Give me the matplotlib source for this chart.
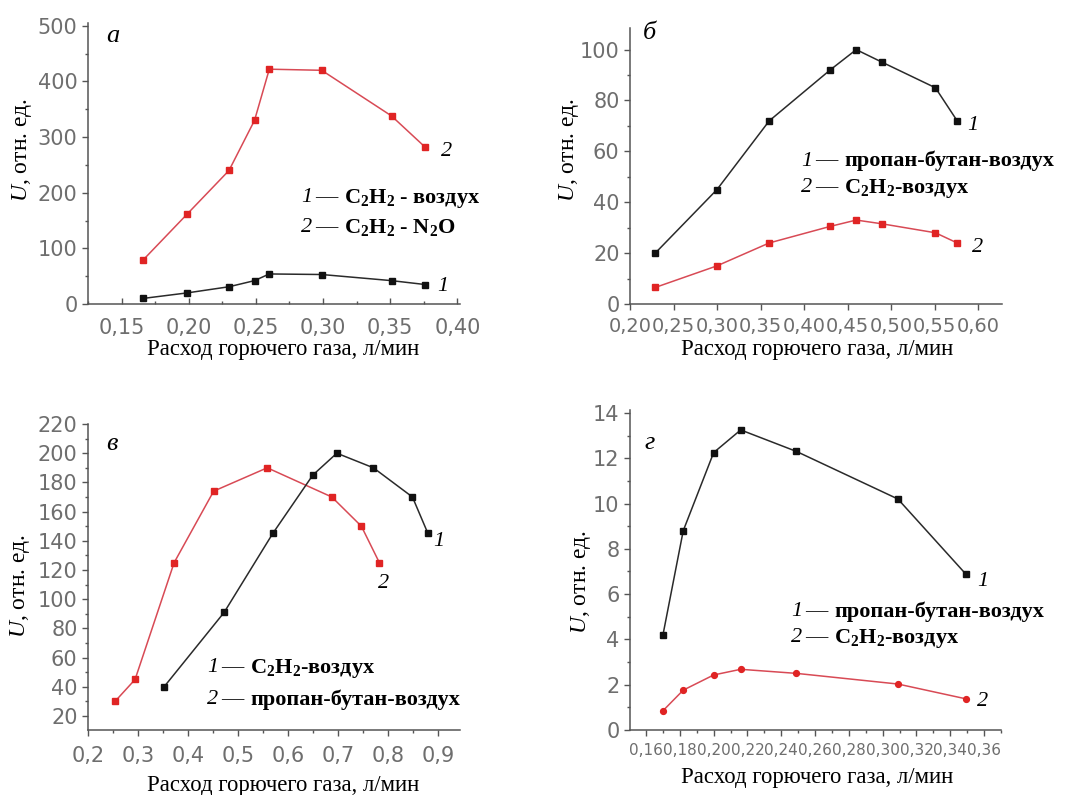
import matplotlib
matplotlib.use("Agg")
import matplotlib.pyplot as plt
from matplotlib.ticker import MultipleLocator, FuncFormatter

plt.rcParams['mathtext.fontset'] = 'custom'
plt.rcParams['mathtext.rm'] = 'Liberation Serif:bold'
plt.rcParams['mathtext.it'] = 'Liberation Serif:italic'
plt.rcParams['mathtext.bf'] = 'Liberation Serif:bold'

# --- а: C2H2 - воздух / C2H2 - N2O
a_x = [0.166, 0.199, 0.230, 0.249, 0.260, 0.299, 0.351, 0.376]
a_air = [10, 20, 31, 42, 54, 53, 42, 35]
a_n2o = [79, 162, 240, 330, 422, 420, 338, 282]

# --- б: пропан-бутан-воздух / C2H2-воздух
b_x = [0.229, 0.300, 0.360, 0.430, 0.460, 0.490, 0.551, 0.576]
b_pb = [20, 45, 72, 92, 100, 95, 85, 72]
b_c2h2 = [6.5, 15, 24, 30.5, 33, 31.5, 28, 24]

# --- в: C2H2-воздух / пропан-бутан-воздух
v_x1 = [0.352, 0.472, 0.569, 0.649, 0.697, 0.770, 0.848, 0.879]
v_c2h2 = [40, 91, 145, 185, 200, 190, 170, 145]
v_x2 = [0.254, 0.294, 0.372, 0.451, 0.558, 0.687, 0.746, 0.782]
v_pb = [30, 45, 125, 174, 190, 170, 150, 125]

# --- г: пропан-бутан-воздух / C2H2-воздух
g_x = [0.170, 0.182, 0.200, 0.216, 0.249, 0.309, 0.349]
g_pb = [4.2, 8.8, 12.25, 13.25, 12.3, 10.2, 6.9]
g_c2h2 = [0.85, 1.76, 2.43, 2.68, 2.5, 2.03, 1.38]

W, H = 1068, 795
fig = plt.figure(figsize=(W / 100, H / 100), dpi=100)

SERIF = 'Liberation Serif'
SANS = 'DejaVu Sans'
RED_LINE = '#d84a55'
RED_MARK = '#e02424'
BLK_LINE = '#2a2a2a'
BLK_MARK = '#111111'
TICK_C = '#6e6e6e'


def px_axes(l, r, t, b):
    return fig.add_axes([l / W, 1 - b / H, (r - l) / W, (b - t) / H])


def ftxt(x, y, s, **kw):
    fig.text(x / W, 1 - y / H, s, **kw)


def comma(decimals):
    return FuncFormatter(lambda v, p: f"{v:.{decimals}f}".replace('.', ','))


def style(ax, xmaj, xmin, ymaj, ymin, xdec, xdir='out', xsize=15, xpad=5):
    for s in ['top', 'right']:
        ax.spines[s].set_visible(False)
    for s in ['left', 'bottom']:
        ax.spines[s].set_color('#555555')
        ax.spines[s].set_linewidth(1.1)
    ax.xaxis.set_major_locator(MultipleLocator(xmaj))
    if xmin:
        ax.xaxis.set_minor_locator(MultipleLocator(xmin))
    ax.yaxis.set_major_locator(MultipleLocator(ymaj))
    ax.yaxis.set_minor_locator(MultipleLocator(ymin))
    ax.xaxis.set_major_formatter(comma(xdec))
    ax.tick_params(which='both', colors='#555555', labelcolor=TICK_C, width=1)
    ax.tick_params(which='major', length=4.5)
    ax.tick_params(which='minor', length=2.5)
    ax.tick_params(axis='x', which='both', direction=xdir, pad=xpad,
                   labelsize=xsize)
    ax.tick_params(axis='y', which='both', direction='out', pad=3,
                   labelsize=15)
    for lab in ax.get_xticklabels() + ax.get_yticklabels():
        lab.set_family(SANS)


def curve(ax, x, y, color, mcolor, marker='s'):
    ax.plot(x, y, color=color, lw=1.1, marker=marker, ms=4.2,
            mfc=mcolor, mec=mcolor, clip_on=False)


def legend(x, y1, y2, name1, name2):
    for y, num, name in [(y1, '1', name1), (y2, '2', name2)]:
        ftxt(x, y, num, family=SERIF, style='italic', fontsize=16, va='center')
        ftxt(x + 14, y, '—', family=SERIF, fontsize=16, va='center')
        ftxt(x + 43, y, name, family=SERIF, weight='bold', fontsize=16,
             va='center')


def labels(xc, yc, xl_y, yl_x):
    ftxt(xc, xl_y, 'Расход горючего газа, л/мин', family=SERIF, fontsize=16.4,
         ha='center', va='center')
    ftxt(yl_x, yc, '$U$, отн. ед.', family=SERIF, fontsize=17, rotation=90,
         ha='center', va='center')


def mark(x, y, s, size=15):
    ftxt(x, y, s, family=SERIF, style='italic', fontsize=size, va='center')


C2H2 = 'C$_2$H$_2$'

# а
ax = px_axes(88, 460, 23, 304)
curve(ax, a_x, a_n2o, RED_LINE, RED_MARK)
curve(ax, a_x, a_air, BLK_LINE, BLK_MARK)
ax.set_xlim(0.125, 0.402)
ax.set_ylim(0, 505)
style(ax, 0.05, 0.025, 100, 50, 2, xdir='in', xpad=10)
mark(106, 36, 'а', 19)
mark(441, 152, '2', 16)
mark(437, 287, '1', 16)
legend(301, 198, 228, C2H2 + ' - воздух', C2H2 + ' - N$_2$O')
labels(283, 150, 350, 22)

# б
ax = px_axes(630, 1002, 28, 304)
curve(ax, b_x, b_pb, BLK_LINE, BLK_MARK)
curve(ax, b_x, b_c2h2, RED_LINE, RED_MARK)
ax.set_xlim(0.2, 0.6275)
ax.set_ylim(0, 108.5)
style(ax, 0.05, None, 20, 10, 2, xsize=14)
mark(643, 33, 'б', 19)
mark(967, 126, '1', 16)
mark(972, 247, '2', 16)
legend(801, 161, 188, 'пропан-бутан-воздух', C2H2 + '-воздух')
labels(817, 150, 350, 569)

# в
ax = px_axes(88, 460, 424, 730)
curve(ax, v_x2, v_pb, RED_LINE, RED_MARK)
curve(ax, v_x1, v_c2h2, BLK_LINE, BLK_MARK)
ax.set_xlim(0.2, 0.943)
ax.set_ylim(10.4, 220)
style(ax, 0.1, 0.05, 20, 10, 1, xpad=7)
mark(106, 444, 'в', 19)
mark(433, 542, '1', 16)
mark(378, 584, '2', 16)
legend(207, 668, 700, C2H2 + '-воздух', 'пропан-бутан-воздух')
labels(283, 586, 785, 20)

# г
ax = px_axes(630, 1001, 410, 730)
curve(ax, g_x, g_pb, BLK_LINE, BLK_MARK)
curve(ax, g_x, g_c2h2, RED_LINE, RED_MARK, marker='o')
ax.set_xlim(0.1505, 0.37)
ax.set_ylim(0, 14.13)
style(ax, 0.02, 0.01, 2, 1, 2, xsize=11)
mark(644, 443, 'г', 19)
mark(977, 582, '1', 16)
mark(977, 702, '2', 16)
legend(791, 612, 638, 'пропан-бутан-воздух', C2H2 + '-воздух')
labels(817, 582, 777, 581)

fig.savefig('out.png', dpi=100)
